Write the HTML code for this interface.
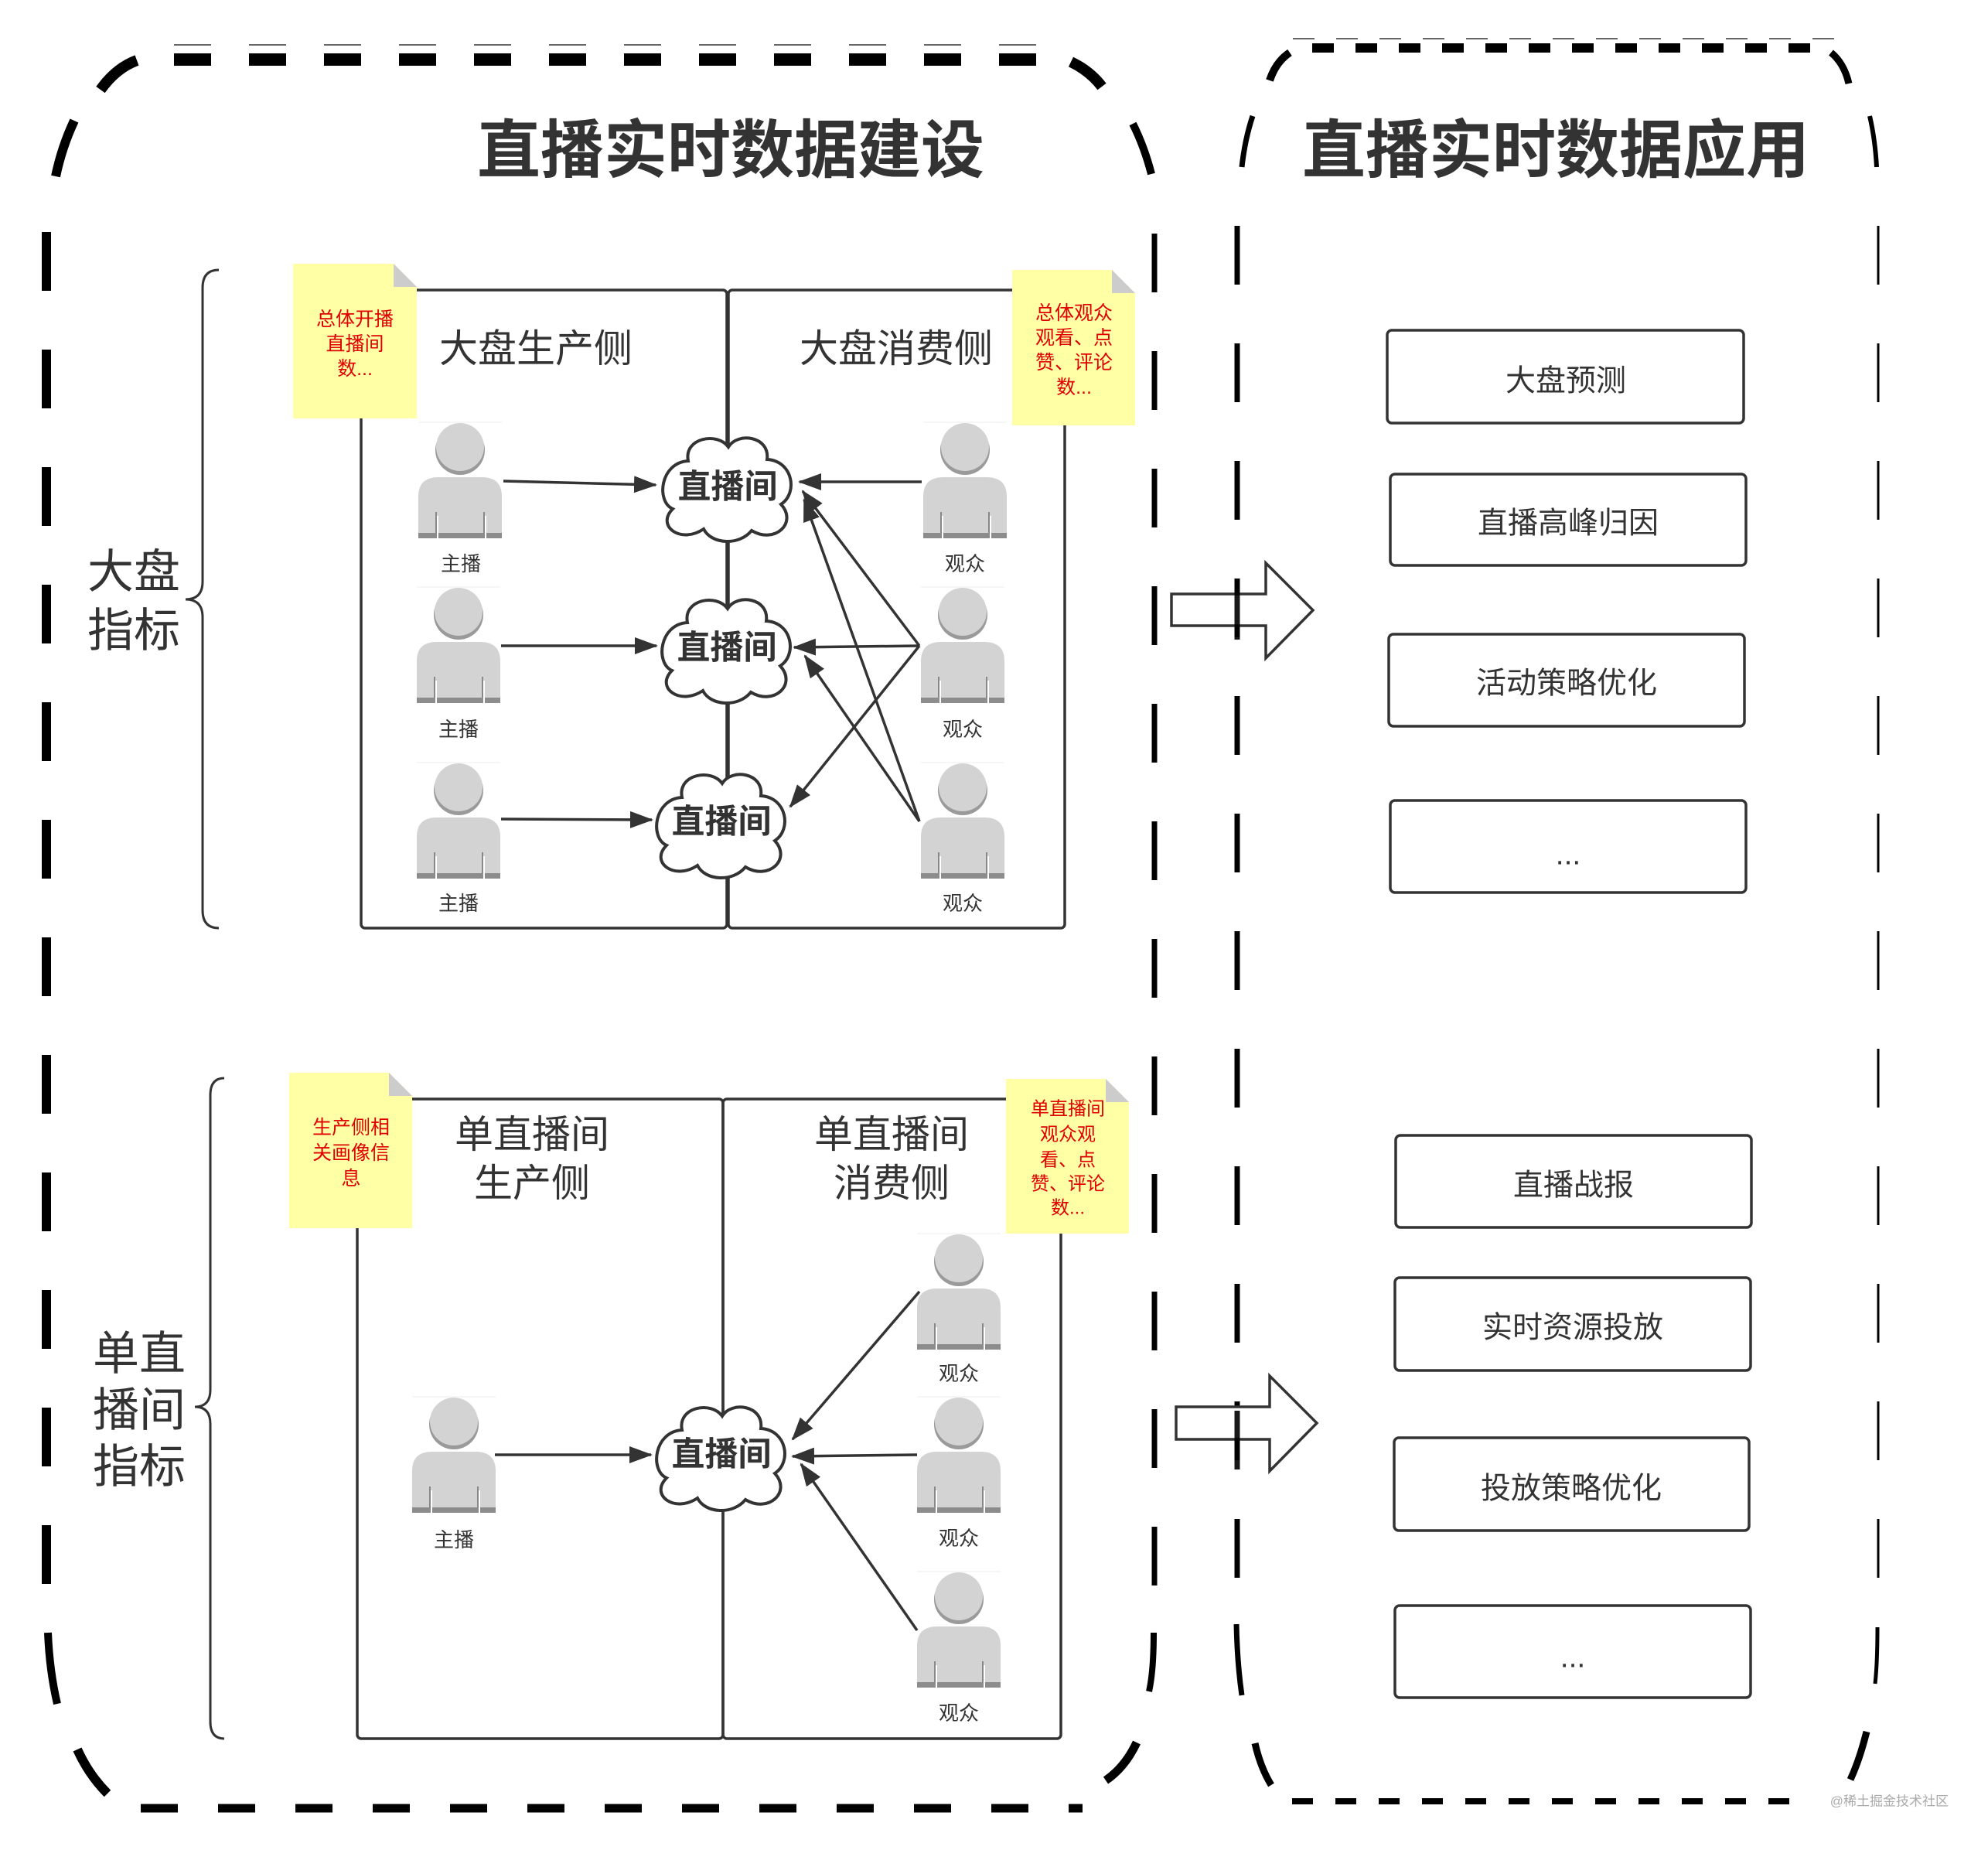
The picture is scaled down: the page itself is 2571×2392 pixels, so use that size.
<!DOCTYPE html>
<html><head><meta charset="utf-8"><style>
html,body{margin:0;padding:0;background:#fff;}
svg{display:block;}
text{font-family:"Liberation Sans","Noto Sans CJK SC",sans-serif;}
</style></head><body>
<svg width="2571" height="2392" viewBox="0 0 2571 2392" xmlns="http://www.w3.org/2000/svg">
<defs>
<marker id="ah" markerWidth="30" markerHeight="22" refX="28" refY="11" orient="auto" markerUnits="userSpaceOnUse">
<path d="M0,0 L30,11 L0,22 Z" fill="#333"/>
</marker>
<g id="person">
<line x1="0" y1="0" x2="108" y2="0" stroke="#eee" stroke-width="1"/>
<circle cx="54" cy="36" r="32" fill="#9a9a9a"/>
<circle cx="54" cy="32" r="31" fill="#d3d3d3"/>
<path d="M0,150 V96 Q0,71 26,71 H82 Q108,71 108,96 V150 Z" fill="#d3d3d3"/>
<rect x="0" y="143" width="108" height="7" fill="#8c8c8c"/>
<line x1="23" y1="116" x2="23" y2="143" stroke="#888" stroke-width="2"/>
<line x1="85" y1="116" x2="85" y2="143" stroke="#888" stroke-width="2"/>
<line x1="25" y1="121" x2="25" y2="150" stroke="#fff" stroke-width="2"/>
<line x1="87" y1="121" x2="87" y2="150" stroke="#fff" stroke-width="2"/>
</g>
<g id="cloud">
<path d="M40,38 C34,8 78,0 92,20 C104,0 146,6 142,36 C176,38 182,80 160,94 C182,118 152,146 122,128 C106,148 70,146 60,126 C30,146 -2,122 20,100 C-2,90 4,40 40,38 Z" fill="#fff" stroke="#333" stroke-width="4"/>
</g>
</defs>

<!-- LEFT CONTAINER -->
<g stroke="#000" fill="none" stroke-linecap="butt">
<line x1="225" y1="58" x2="1380" y2="58" stroke="#666" stroke-width="2" stroke-dasharray="48 49"/>
<line x1="225" y1="77" x2="1365" y2="77" stroke-width="16" stroke-dasharray="48 49"/>
<path d="M130,116 Q150,88 177,78" stroke-width="14"/>
<path d="M72,228 Q80,190 96,156" stroke-width="12"/>
<path d="M1385,80 Q1410,92 1425,112" stroke-width="14"/>
<path d="M1465,160 Q1480,190 1489,225" stroke-width="10"/>
<line x1="60" y1="300" x2="60" y2="2050" stroke-width="12" stroke-dasharray="76 76"/>
<path d="M62,2111 Q64,2160 74,2203" stroke-width="10"/>
<path d="M100,2262 Q115,2295 139,2319" stroke-width="12"/>
<line x1="182" y1="2338" x2="1400" y2="2338" stroke-width="11" stroke-dasharray="48 52"/>
<line x1="1493" y1="302" x2="1493" y2="2060" stroke-width="7" stroke-dasharray="76 76"/>
<path d="M1492,2111 Q1492,2160 1486,2187" stroke-width="8"/>
<path d="M1470,2253 Q1455,2285 1430,2302" stroke-width="11"/>
</g>

<!-- RIGHT CONTAINER -->
<g stroke="#000" fill="none">
<line x1="1672" y1="50" x2="2380" y2="50" stroke="#666" stroke-width="2" stroke-dasharray="28 28"/>
<line x1="1697" y1="62" x2="2366" y2="62" stroke-width="12" stroke-dasharray="28 28"/>
<path d="M1642,104 Q1650,80 1668,68" stroke-width="10"/>
<path d="M1606,216 Q1610,180 1620,150" stroke-width="7"/>
<path d="M2368,68 Q2385,82 2391,108" stroke-width="9"/>
<path d="M2418,150 Q2425,180 2427,216" stroke-width="6"/>
<line x1="1600" y1="292" x2="1600" y2="2050" stroke-width="7" stroke-dasharray="76 76"/>
<line x1="2429" y1="292" x2="2429" y2="2050" stroke-width="3" stroke-dasharray="76 76"/>
<path d="M1599,2100 Q1600,2150 1606,2192" stroke-width="7"/>
<path d="M1623,2254 Q1630,2285 1644,2308" stroke-width="9"/>
<path d="M2428,2104 Q2428,2150 2425,2177" stroke-width="5"/>
<path d="M2414,2239 Q2405,2275 2393,2301" stroke-width="9"/>
<line x1="1671" y1="2329" x2="2330" y2="2329" stroke-width="8" stroke-dasharray="27 29"/>
</g>

<!-- titles -->
<text x="945" y="195" font-size="82" font-weight="bold" fill="#333" text-anchor="middle" dominant-baseline="central">直播实时数据建设</text>
<text x="2012" y="195" font-size="82" font-weight="bold" fill="#333" text-anchor="middle" dominant-baseline="central">直播实时数据应用</text>

<!-- braces -->
<g stroke="#333" stroke-width="3" fill="none">
<path d="M283,349 Q262,349 262,372 V752 Q262,775 240,775 Q262,775 262,798 V1177 Q262,1200 283,1200"/>
<path d="M290,1394 Q272,1394 272,1416 V1797 Q272,1819 252,1819 Q272,1819 272,1841 V2226 Q272,2248 290,2248"/>
</g>
<g font-size="60" fill="#333">
<text x="113" y="760">大盘</text>
<text x="113" y="836">指标</text>
<text x="120" y="1771">单直</text>
<text x="120" y="1844">播间</text>
<text x="120" y="1917">指标</text>
</g>

<!-- upper boxes -->
<g stroke="#333" stroke-width="3.5" fill="none">
<rect x="467" y="375" width="473" height="825" rx="5"/>
<rect x="942" y="375" width="435" height="825" rx="5"/>
<rect x="462" y="1421" width="473" height="827" rx="5"/>
<rect x="935" y="1421" width="437" height="827" rx="5"/>
</g>

<!-- sticky notes -->
<g>
<path d="M379,341 H509 L539,371 V541 H379 Z" fill="#ffffa6"/><path d="M509,341 L539,371 H509 Z" fill="#ccc"/>
<path d="M1309,349 H1438 L1468,379 V550 H1309 Z" fill="#ffffa6"/><path d="M1438,349 L1468,379 H1438 Z" fill="#ccc"/>
<path d="M374,1387 H503 L533,1417 V1588 H374 Z" fill="#ffffa6"/><path d="M503,1387 L533,1417 H503 Z" fill="#ccc"/>
<path d="M1301,1395 H1430 L1460,1425 V1595 H1301 Z" fill="#ffffa6"/><path d="M1430,1395 L1460,1425 H1430 Z" fill="#ccc"/>
</g>
<g font-size="25" fill="#e00000" text-anchor="middle" dominant-baseline="central">
<text x="459" y="413">总体开播</text><text x="459" y="445">直播间</text><text x="459" y="477">数...</text>
<text x="1389" y="405">总体观众</text><text x="1389" y="437">观看、点</text><text x="1389" y="469">赞、评论</text><text x="1389" y="501">数...</text>
<text x="454" y="1458">生产侧相</text><text x="454" y="1491">关画像信</text><text x="454" y="1524">息</text>
<g font-size="24"><text x="1381" y="1434">单直播间</text><text x="1381" y="1467">观众观</text><text x="1381" y="1500">看、点</text><text x="1381" y="1531">赞、评论</text><text x="1381" y="1562">数...</text></g>
</g>

<!-- headers -->
<g font-size="50" fill="#333" text-anchor="middle" dominant-baseline="central">
<text x="693" y="451">大盘生产侧</text>
<text x="1159" y="451">大盘消费侧</text>
<text x="688" y="1467">单直播间</text><text x="688" y="1530">生产侧</text>
<text x="1153" y="1467">单直播间</text><text x="1153" y="1530">消费侧</text>
</g>

<!-- persons -->
<use href="#person" x="541" y="546"/>
<use href="#person" x="539" y="759"/>
<use href="#person" x="539" y="986"/>
<use href="#person" x="1194" y="546"/>
<use href="#person" x="1191" y="759"/>
<use href="#person" x="1191" y="986"/>
<use href="#person" x="533" y="1806"/>
<use href="#person" x="1186" y="1595"/>
<use href="#person" x="1186" y="1806"/>
<use href="#person" x="1186" y="2032"/>
<g font-size="26" fill="#333" text-anchor="middle" dominant-baseline="central">
<text x="596" y="729">主播</text><text x="593" y="943">主播</text><text x="593" y="1168">主播</text>
<text x="1248" y="729">观众</text><text x="1245" y="943">观众</text><text x="1245" y="1168">观众</text>
<text x="587" y="1991">主播</text>
<text x="1240" y="1776">观众</text><text x="1240" y="1989">观众</text><text x="1240" y="2215">观众</text>
</g>

<!-- arrows -->
<g stroke="#333" stroke-width="3.5" fill="none" marker-end="url(#ah)">
<line x1="651" y1="622" x2="848" y2="627"/>
<line x1="648" y1="835" x2="849" y2="835"/>
<line x1="648" y1="1059" x2="843" y2="1060"/>
<line x1="1192" y1="623" x2="1034" y2="623"/>
<line x1="1189" y1="835" x2="1027" y2="837"/>
<line x1="1189" y1="835" x2="1038" y2="635"/>
<line x1="1189" y1="835" x2="1022" y2="1043"/>
<line x1="1189" y1="1062" x2="1040" y2="646"/>
<line x1="1189" y1="1062" x2="1041" y2="848"/>
<line x1="640" y1="1881" x2="842" y2="1881"/>
<line x1="1189" y1="1670" x2="1025" y2="1861"/>
<line x1="1186" y1="1881" x2="1025" y2="1883"/>
<line x1="1186" y1="2108" x2="1036" y2="1893"/>
</g>

<!-- clouds -->
<use href="#cloud" x="850" y="558"/>
<use href="#cloud" x="849" y="767"/>
<use href="#cloud" x="842" y="993"/>
<use href="#cloud" x="842" y="1811"/>
<g font-size="43" font-weight="bold" fill="#333" text-anchor="middle" dominant-baseline="central">
<text x="941" y="630">直播间</text>
<text x="940" y="838">直播间</text>
<text x="933" y="1063">直播间</text>
<text x="933" y="1881">直播间</text>
</g>

<!-- block arrows -->
<g fill="#fff" stroke="#333" stroke-width="3.5">
<path d="M1515,768 H1637 V728 L1698,789 L1637,851 V809 H1515 Z"/>
<path d="M1521,1819 H1642 V1779 L1703,1840 L1642,1902 V1861 H1521 Z"/>
</g>
<line x1="1600" y1="749" x2="1600" y2="827" stroke="#000" stroke-width="7" opacity="0.9"/>
<line x1="1600" y1="1824" x2="1600" y2="1900" stroke="#000" stroke-width="7" opacity="0.9"/>

<!-- right boxes -->
<g stroke="#333" stroke-width="3.5" fill="#fff">
<rect x="1794" y="427" width="461" height="120" rx="6"/>
<rect x="1798" y="613" width="460" height="118" rx="6"/>
<rect x="1796" y="820" width="460" height="119" rx="6"/>
<rect x="1798" y="1035" width="460" height="119" rx="6"/>
<rect x="1805" y="1468" width="460" height="119" rx="6"/>
<rect x="1804" y="1652" width="460" height="120" rx="6"/>
<rect x="1803" y="1859" width="459" height="120" rx="6"/>
<rect x="1804" y="2076" width="460" height="119" rx="6"/>
</g>
<g font-size="39" fill="#333" text-anchor="middle" dominant-baseline="central">
<text x="2025" y="493">大盘预测</text>
<text x="2028" y="677">直播高峰归因</text>
<text x="2026" y="884">活动策略优化</text>
<text x="2028" y="1105">...</text>
<text x="2035" y="1533">直播战报</text>
<text x="2034" y="1717">实时资源投放</text>
<text x="2032" y="1925">投放策略优化</text>
<text x="2034" y="2143">...</text>
</g>

<text x="2520" y="2329" font-size="17" fill="#aaa" text-anchor="end" dominant-baseline="central">@稀土掘金技术社区</text>
</svg>
</body></html>
